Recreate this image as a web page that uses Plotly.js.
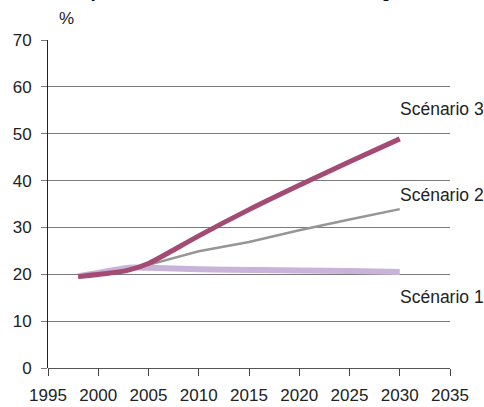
<!DOCTYPE html>
<html>
<head>
<meta charset="utf-8">
<script src="https://cdn.plot.ly/plotly-3.0.1.min.js"></script>
<style>html,body{margin:0;padding:0;background:#fff;}#chart{width:484px;height:407px;}</style>
</head>
<body>
<div id="chart"></div>
<script>
var titleText = "Part des majeurs selon les trois scénarios en Allemagne";
var yUnit = "%";

var years1 = [1998, 2000, 2003, 2005, 2010, 2016, 2020, 2025, 2030];
var scen1  = [19.6, 20.3, 21.4, 21.4, 21.1, 20.9, 20.8, 20.7, 20.5];

var years2 = [1998, 2000, 2003, 2005, 2010, 2015, 2020, 2025, 2030];
var scen2  = [19.6, 20.1, 20.9, 22.0, 24.9, 26.9, 29.4, 31.7, 33.9];

var years3 = [1998, 2001, 2003, 2005, 2007, 2010, 2015, 2020, 2025, 2030];
var scen3  = [19.5, 20.2, 20.9, 22.3, 24.6, 28.2, 33.8, 39.0, 44.0, 48.9];

var labelNames = ["Scénario 3", "Scénario 2", "Scénario 1"];
var labelX = [2029.8, 2029.8, 2029.8];
var labelY = [55.2, 36.9, 15.2];

var xTicks = [1995, 2000, 2005, 2010, 2015, 2020, 2025, 2030, 2035];
var yTicks = [0, 10, 20, 30, 40, 50, 60, 70];

var FONT = "Liberation Sans, Arial, sans-serif";

var traces = [
  {x: years2, y: scen2, mode: "lines", line: {color: "#969696", width: 2.5}, hoverinfo: "skip"},
  {x: years1, y: scen1, mode: "lines", line: {color: "#c8b4d9", width: 6, shape: "spline", smoothing: 0.6}, hoverinfo: "skip"},
  {x: years3, y: scen3, mode: "lines", line: {color: "#a44b75", width: 5, shape: "spline", smoothing: 0.6}, hoverinfo: "skip"}
];

var annotations = [];
for (var i = 0; i < labelNames.length; i++) {
  annotations.push({x: labelX[i], y: labelY[i], xref: "x", yref: "y", text: labelNames[i],
    showarrow: false, xanchor: "left", yanchor: "middle",
    font: {family: FONT, size: 17.5, color: "#222"}});
}
annotations.push({x: 0.045, y: 1.067, xref: "paper", yref: "paper", text: yUnit, showarrow: false,
  xanchor: "center", yanchor: "middle", font: {family: FONT, size: 17, color: "#222"}});
annotations.push({x: -0.107, y: 1.1128, xref: "paper", yref: "paper", text: "<b>" + titleText + "</b>", showarrow: false,
  xanchor: "left", yanchor: "bottom", font: {family: FONT, size: 15, color: "#111"}});

var layout = {
  width: 484, height: 407,
  margin: {l: 48, r: 34, t: 40, b: 39},
  paper_bgcolor: "#fff", plot_bgcolor: "#fff",
  showlegend: false,
  xaxis: {range: [1995, 2035], tickvals: xTicks, ticktext: xTicks.map(String),
    showgrid: false, zeroline: false, showline: false,
    ticks: "outside", ticklen: 7, tickcolor: "#444", tickwidth: 1,
    ticklabelstandoff: 5,
    tickfont: {family: FONT, size: 17, color: "#222"}},
  yaxis: {range: [0, 70], tickvals: yTicks, ticktext: yTicks.map(String),
    showgrid: true, gridcolor: "#7a7a7a", gridwidth: 1,
    zeroline: true, zerolinecolor: "#555", zerolinewidth: 1,
    showline: true, linecolor: "#222", linewidth: 1,
    ticks: "outside", ticklen: 6, tickcolor: "#7a7a7a", tickwidth: 1,
    ticklabelstandoff: 6,
    tickfont: {family: FONT, size: 17, color: "#222"}},
  annotations: annotations
};

Plotly.newPlot("chart", traces, layout, {staticPlot: true, displayModeBar: false});
</script>
</body>
</html>
